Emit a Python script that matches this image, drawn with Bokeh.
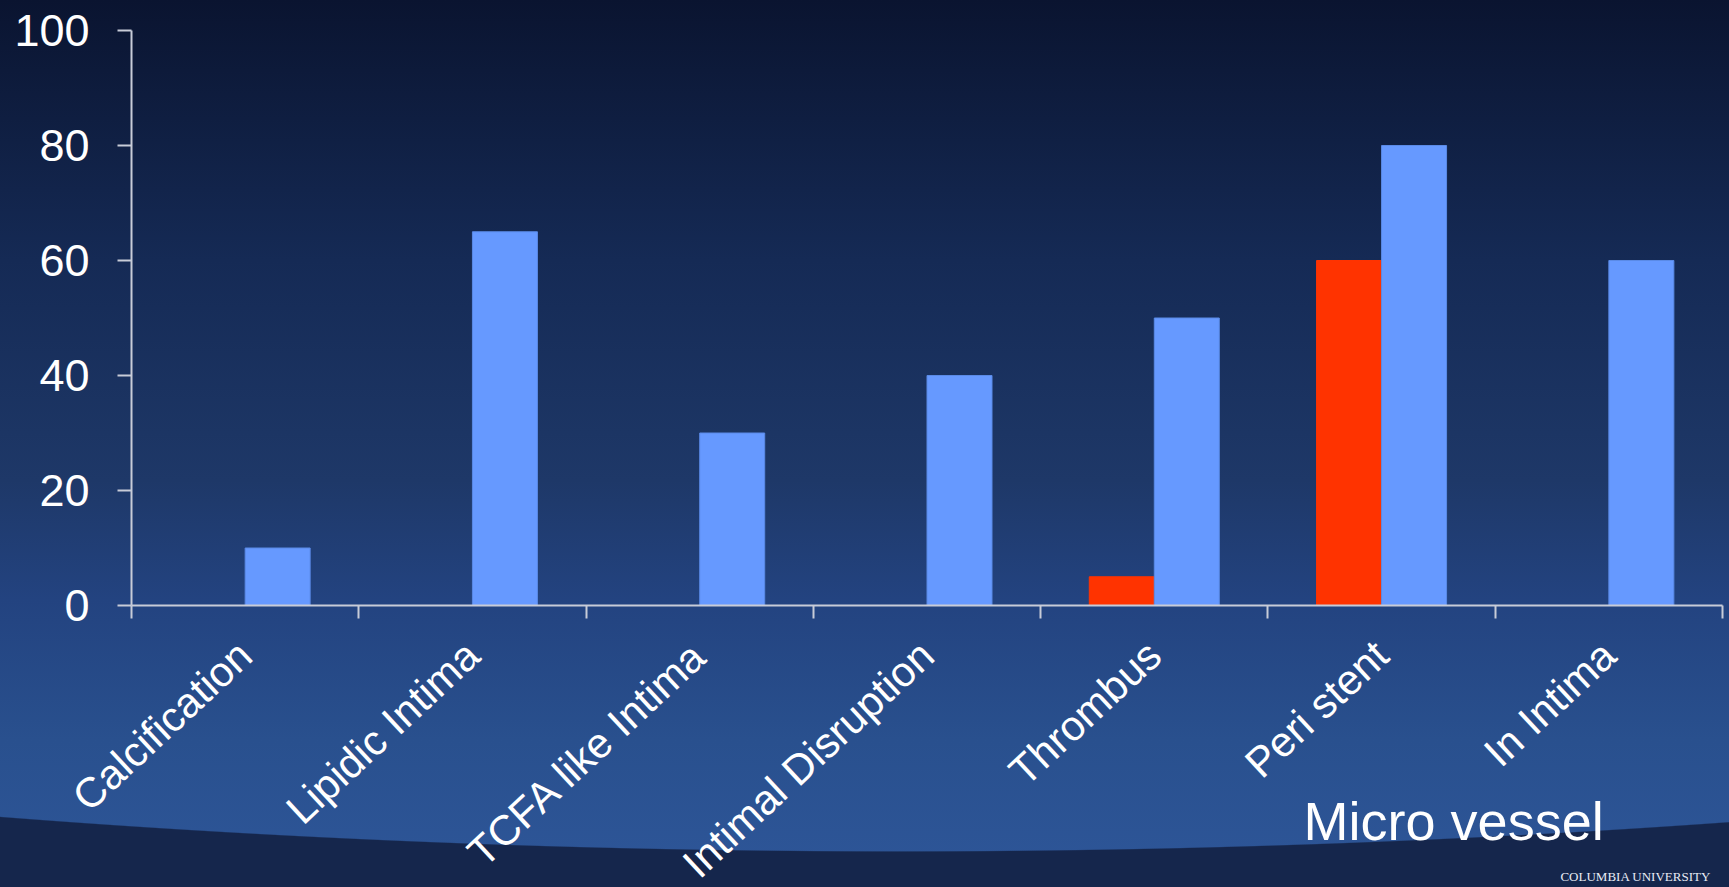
from bokeh.plotting import figure
from bokeh.models import Range1d, FixedTicker, Label, ColumnDataSource
from bokeh.embed import file_html
from bokeh.resources import INLINE

categories = ["Calcification", "Lipidic Intima", "TCFA like Intima", "Intimal Disruption",
              "Thrombus", "Peri stent", "In Intima"]
red_values = [0, 0, 0, 0, 5, 60, 0]
blue_values = [10, 65, 30, 40, 50, 80, 60]
y_ticks = [0, 20, 40, 60, 80, 100]
annotation_text = "Micro vessel"
footer_text = "COLUMBIA UNIVERSITY"

BAR_W = 0.286
centers = [i + 0.5 for i in range(len(categories))]
n = len(categories)

src = ColumnDataSource(dict(
    cat=categories,
    xr=[c - BAR_W / 2 for c in centers],
    xb=[c + BAR_W / 2 for c in centers],
    red=red_values,
    blue=blue_values,
))

# Frame fills the whole canvas; axes are pinned at value 0 / category edge 0.
W, H = 1729, 887
AX_L, AX_R, AX_T, AX_B = 131, 1722, 30, 605       # pixel box of the 0..n x 0..100 area
PX_X = (AX_R - AX_L) / n
PX_Y = (AX_B - AX_T) / 100.0
x_lo, x_hi = -AX_L / PX_X, n + (W - AX_R) / PX_X
y_lo, y_hi = -(H - AX_B) / PX_Y, 100 + AX_T / PX_Y

p = figure(width=W, height=H, output_backend="svg", toolbar_location=None,
           x_range=Range1d(x_lo, x_hi), y_range=Range1d(y_lo, y_hi),
           min_border_left=0, min_border_right=0, min_border_top=0, min_border_bottom=0)

p.background_fill_alpha = 0
p.border_fill_alpha = 0
p.outline_line_color = None
p.grid.visible = False
p.styles = {
    "background": (
        "radial-gradient(3780px 1200px at 900px -348px, rgba(0,0,0,0) 0%, rgba(0,0,0,0) 99.9%, #15264c 100%), "
        "linear-gradient(to bottom, #0a1430 0px, #152a55 260px, #1e3868 480px, #234380 600px, "
        "#29508e 740px, #2d5597 860px)"
    )
}

p.vbar(x="xr", top="red", width=BAR_W, source=src, fill_color="#FF3300",
       line_color="#FF3300", line_width=1)
p.vbar(x="xb", top="blue", width=BAR_W, source=src, fill_color="#6699FF",
       line_color="#5A8AE6", line_width=1)

axis_col = "#C8CCD8"
font = "Liberation Sans"

# y axis pinned at x = 0
ya = p.yaxis[0]
ya.fixed_location = 0
ya.ticker = FixedTicker(ticks=y_ticks)
ya.bounds = (0, 100)
ya.axis_line_color = axis_col
ya.axis_line_width = 2
ya.major_tick_line_color = axis_col
ya.major_tick_line_width = 2
ya.major_tick_out = 14
ya.major_tick_in = 0
ya.minor_tick_line_color = None
ya.major_label_text_color = "white"
ya.major_label_text_font = font
ya.major_label_text_font_size = "45px"
ya.major_label_standoff = 28

# x axis pinned at y = 0: labels at category centers, ticks at category boundaries
xa = p.xaxis[0]
xa.fixed_location = 0
xa.bounds = (0, n)
xa.ticker = FixedTicker(ticks=centers, minor_ticks=list(range(n + 1)))
xa.major_label_overrides = {c: name for c, name in zip(centers, categories)}
xa.axis_line_color = axis_col
xa.axis_line_width = 2
xa.major_tick_line_color = None
xa.major_tick_out = 0
xa.major_tick_in = 0
xa.minor_tick_line_color = axis_col
xa.minor_tick_line_width = 2
xa.minor_tick_out = 13
xa.minor_tick_in = 0
xa.major_label_orientation = 0.75
xa.major_label_text_color = "white"
xa.major_label_text_font = font
xa.major_label_text_font_size = "42px"
xa.major_label_standoff = 30

p.add_layout(Label(x=5.157, y=-37.4, text=annotation_text,
                   text_color="white", text_font=font, text_font_size="54px",
                   text_baseline="alphabetic"))
p.add_layout(Label(x=6.287, y=-47.2, text=footer_text,
                   text_color="#E8ECF5", text_font="Liberation Serif", text_font_size="13px",
                   text_baseline="alphabetic"))

open("out.html", "w").write(file_html(p, INLINE))
